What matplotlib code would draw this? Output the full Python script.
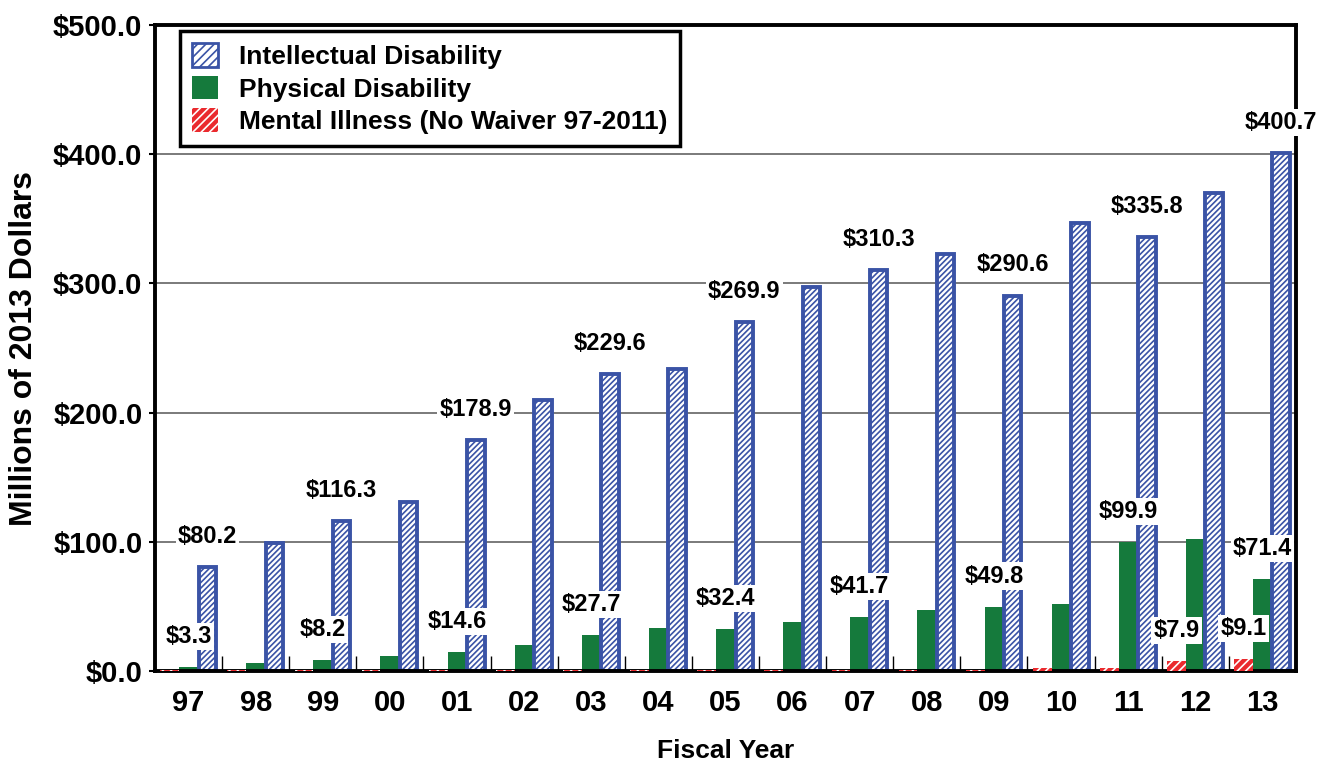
import matplotlib
matplotlib.use('Agg')
import matplotlib.pyplot as plt
from matplotlib.patches import Patch
from matplotlib.ticker import FixedLocator
import numpy as np

plt.rcParams['font.family'] = ['Liberation Sans', 'DejaVu Sans']
plt.rcParams['font.weight'] = 'bold'
plt.rcParams['hatch.linewidth'] = 1.2

# data (millions of 2013 dollars)
years = ['97', '98', '99', '00', '01', '02', '03', '04', '05',
         '06', '07', '08', '09', '10', '11', '12', '13']
intellectual = [80.2, 99, 116.3, 131, 178.9, 210, 229.6, 234, 269.9,
                297, 310.3, 323, 290.6, 347, 335.8, 370, 400.7]
physical = [3.3, 6.5, 8.2, 11.5, 14.6, 20, 27.7, 33.5, 32.4,
            38, 41.7, 47.5, 49.8, 51.5, 99.9, 102, 71.4]
mental = [1.0, 1.0, 1.0, 1.0, 1.0, 1.0, 1.0, 1.0, 1.0,
          1.0, 1.0, 1.0, 1.0, 2.0, 2.0, 7.9, 9.1]

# which bars carry a value label
intellectual_labeled = ['97', '99', '01', '03', '05', '07', '09', '11', '13']
physical_labeled = ['97', '99', '01', '03', '05', '07', '09', '11', '13']
mental_labeled = ['12', '13']

yticks = [0, 100, 200, 300, 400, 500]
ytick_labels = ['$0.0', '$100.0', '$200.0', '$300.0', '$400.0', '$500.0']

BLUE = '#3a53a6'
GREEN = '#157a3c'
RED = '#ea2a2e'


def main():
    fig = plt.figure(figsize=(13.27, 7.64), dpi=100)
    ax = fig.add_axes([0.1168, 0.1217, 0.8598, 0.8456])

    x = np.arange(len(years))
    w = 0.28

    # mental illness: red fill with white hatch (drawn over the axis line)
    ax.bar(x - w, mental, w, color=RED, linewidth=0, zorder=4.5)
    ax.bar(x - w, mental, w, facecolor='none', edgecolor='white',
           hatch='////', linewidth=0, zorder=4.5)
    # physical disability
    ax.bar(x, physical, w, color=GREEN, linewidth=0, zorder=3)
    # intellectual disability: white fill, blue hatch and outline
    ax.bar(x + w, intellectual, w - 0.02, facecolor='white', edgecolor=BLUE,
           hatch='//////', linewidth=2.8, zorder=3)

    # value labels, ~30 px above each bar
    box = dict(facecolor='white', edgecolor='none', pad=1.5)
    for vals, offs, labeled in [(intellectual, w, intellectual_labeled),
                                (physical, 0, physical_labeled),
                                (mental, -w, mental_labeled)]:
        for i, yr in enumerate(years):
            if yr in labeled:
                ax.annotate('$%.1f' % vals[i], (x[i] + offs, vals[i]),
                            xytext=(0, 22), textcoords='offset points',
                            ha='center', va='center', fontsize=17,
                            fontweight='bold', bbox=box, zorder=5)

    ax.set_xlim(-0.5, len(years) - 0.5)
    ax.set_ylim(0, 500)
    ax.set_yticks(yticks)
    ax.set_yticklabels(ytick_labels, fontsize=21, fontweight='bold')
    ax.set_xticks(x)
    ax.set_xticklabels(years, fontsize=21, fontweight='bold')
    ax.tick_params(axis='x', which='major', length=0, pad=13)
    ax.xaxis.set_minor_locator(FixedLocator(np.arange(0.5, len(years) - 1, 1)))
    ax.tick_params(axis='x', which='minor', direction='in', length=11,
                   width=1, color='black')
    ax.tick_params(axis='y', which='major', direction='out', length=4,
                   width=1.5, pad=5)

    ax.yaxis.grid(True, color='#707070', linewidth=1.3, zorder=0)
    ax.set_axisbelow(True)
    for s in ax.spines.values():
        s.set_linewidth(2.8)
        s.set_color('black')
        s.set_zorder(4)

    ax.set_ylabel('Millions of 2013 Dollars', fontsize=23, fontweight='bold',
                  labelpad=10)
    ax.set_xlabel('Fiscal Year', fontsize=19, fontweight='bold', labelpad=16)

    handles = [
        Patch(facecolor='white', edgecolor=BLUE, hatch='////', linewidth=2),
        Patch(facecolor=GREEN, edgecolor=GREEN, linewidth=0),
        Patch(facecolor=RED, edgecolor='white', hatch='////', linewidth=0),
    ]
    labels = ['Intellectual Disability', 'Physical Disability',
              'Mental Illness (No Waiver 97-2011)']
    leg = ax.legend(handles, labels, loc='upper left',
                    bbox_to_anchor=(0.022, 0.99), borderaxespad=0,
                    fancybox=False, framealpha=1, edgecolor='black',
                    prop={'size': 19, 'weight': 'bold'},
                    handlelength=1.0, handleheight=1.0, handletextpad=0.8,
                    labelspacing=0.25, borderpad=0.45)
    leg.get_frame().set_linewidth(2.5)
    leg.set_zorder(6)

    fig.savefig('out.png', dpi=100)


if __name__ == '__main__':
    main()
